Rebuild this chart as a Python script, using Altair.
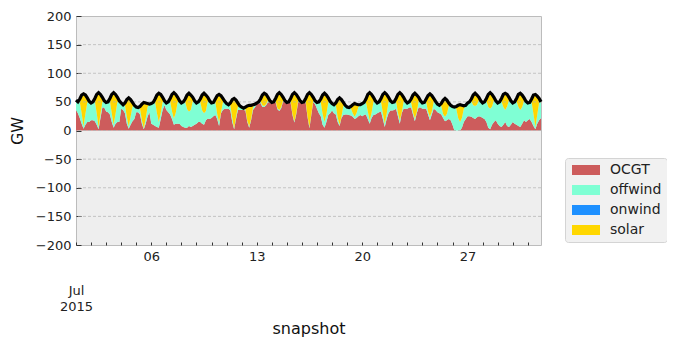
import altair as alt
import pandas as pd

# ---------------- data (GW, 3-hourly snapshots 00,03,...,21h, July 2015) ----------------
CARRIERS = ["OCGT", "offwind", "onwind", "solar"]
COLORS = ["#cd5c5c", "#7fffd4", "#1e90ff", "#ffd700"]

OCGT_DAYS = [
    [36, 30, 22, 12, 3, 10, 15, 15], [18, 18, 16, 10, 2, 22, 40, 40], [33, 32, 28, 15, 5, 12, 15, 15],
    [38, 36, 30, 12, 3, 10, 16, 20], [32, 32, 28, 12, 2, 12, 24, 32], [12, 10, 8, 6, 5, 20, 36, 44],
    [36, 32, 28, 20, 10, 12, 12, 12], [8, 6, 5, 5, 8, 6, 8, 10], [12, 15, 15, 12, 10, 18, 21, 20],
    [22, 25, 27, 20, 8, 30, 36, 38], [38, 38, 35, 15, 2, 20, 36, 36], [36, 36, 35, 15, 5, 18, 36, 40],
    [46, 47, 48, 41, 41, 44, 50, 48], [47, 48, 50, 37, 34, 39, 51, 49], [47, 48, 49, 27, 14, 29, 50, 49],
    [47, 48, 49, 23, 4, 27, 50, 46], [38, 30, 25, 10, 5, 15, 27, 30], [35, 30, 28, 15, 8, 22, 27, 28],
    [28, 27, 26, 24, 20, 22, 25, 27], [25, 27, 28, 20, 12, 22, 27, 28], [30, 32, 33, 20, 6, 20, 30, 35],
    [35, 36, 38, 25, 12, 30, 38, 38], [38, 40, 40, 28, 16, 30, 40, 40], [38, 38, 38, 28, 18, 28, 38, 36],
    [32, 30, 28, 22, 16, 18, 20, 18], [10, 0, 0, 0, 0, 5, 15, 20], [25, 25, 24, 22, 20, 23, 25, 24],
    [22, 20, 15, 5, 2, 10, 15, 18], [12, 8, 6, 10, 15, 8, 6, 10], [15, 12, 10, 8, 6, 12, 18, 15],
    [18, 20, 15, 8, 2, 12, 18, 22],
]
OFFWIND_DAYS = [
    [17, 20, 28, 18, 4, 19, 34, 36], [30, 32, 35, 20, 4, 7, 10, 12], [16, 18, 23, 15, 5, 17, 35, 37],
    [10, 9, 14, 12, 4, 14, 26, 24], [9, 8, 10, 6, 2, 8, 17, 14], [35, 39, 42, 24, 10, 10, 14, 8],
    [12, 18, 23, 13, 11, 19, 38, 40], [40, 44, 45, 32, 25, 30, 43, 42], [36, 35, 35, 23, 20, 16, 30, 32],
    [26, 24, 23, 9, 7, 1, 13, 13], [9, 7, 9, 7, 2, 3, 6, 7], [5, 3, 2, 2, 2, 2, 4, 6],
    [2, 3, 3, 3, 2, 2, 3, 4], [2, 2, 2, 2, 2, 2, 2, 3], [2, 2, 2, 2, 2, 2, 2, 3],
    [2, 2, 2, 2, 2, 2, 2, 6], [11, 20, 25, 19, 10, 13, 22, 21], [12, 15, 16, 8, 2, 2, 16, 16],
    [13, 13, 13, 6, 4, 8, 16, 18], [22, 22, 22, 13, 6, 9, 23, 24], [18, 18, 18, 10, 6, 9, 20, 17],
    [14, 14, 13, 6, 6, 1, 12, 14], [10, 10, 10, 4, 5, 2, 11, 12], [10, 11, 12, 5, 6, 5, 12, 15],
    [14, 14, 15, 7, 8, 11, 23, 26], [32, 41, 38, 22, 15, 17, 23, 24], [23, 25, 27, 22, 23, 22, 28, 28],
    [26, 30, 36, 36, 36, 32, 38, 34], [36, 42, 45, 31, 21, 34, 47, 42], [33, 38, 41, 33, 30, 29, 34, 36],
    [30, 29, 35, 21, 4, 15, 31, 28],
]
SOLAR_DAYS = [
    [0, 0, 5, 32, 57, 33, 8, 0], [0, 0, 5, 33, 60, 34, 8, 0], [0, 0, 5, 33, 56, 34, 8, 0],
    [0, 0, 4, 30, 50, 30, 7, 0], [0, 0, 4, 28, 45, 28, 6, 0], [0, 0, 5, 32, 50, 33, 8, 0],
    [0, 0, 5, 30, 45, 32, 8, 0], [0, 0, 5, 25, 32, 26, 7, 0], [0, 0, 5, 27, 35, 28, 7, 0],
    [0, 0, 5, 32, 48, 30, 7, 0], [0, 0, 4, 32, 52, 30, 6, 0], [0, 0, 4, 26, 37, 24, 5, 0],
    [0, 0, 4, 18, 22, 17, 5, 0], [0, 0, 4, 24, 30, 22, 5, 0], [0, 0, 5, 34, 50, 32, 6, 0],
    [0, 0, 5, 38, 60, 34, 6, 0], [0, 0, 5, 33, 50, 34, 8, 0], [0, 0, 4, 31, 47, 30, 6, 0],
    [0, 0, 3, 15, 23, 16, 4, 0], [0, 0, 5, 30, 48, 32, 8, 0], [0, 0, 5, 33, 54, 34, 8, 0],
    [0, 0, 5, 32, 48, 32, 8, 0], [0, 0, 5, 30, 44, 30, 7, 0], [0, 0, 5, 28, 40, 28, 6, 0],
    [0, 0, 4, 24, 32, 24, 5, 0], [0, 0, 4, 22, 30, 22, 5, 0], [0, 0, 4, 18, 22, 17, 5, 0],
    [0, 0, 5, 22, 28, 21, 5, 0], [0, 0, 5, 22, 29, 21, 5, 0], [0, 0, 5, 22, 29, 21, 5, 0],
    [0, 0, 5, 33, 57, 33, 7, 0],
]
LOAD_DAYS = [
    [53, 50, 55, 62, 64, 62, 57, 51], [48, 50, 56, 63, 66, 63, 58, 52], [49, 50, 56, 63, 66, 63, 58, 52],
    [48, 45, 48, 54, 57, 54, 49, 44], [41, 40, 42, 46, 49, 48, 47, 46], [47, 49, 55, 62, 65, 63, 58, 52],
    [48, 50, 56, 63, 66, 63, 58, 52], [48, 50, 55, 62, 65, 62, 58, 52], [48, 50, 55, 62, 65, 62, 58, 52],
    [48, 49, 55, 61, 63, 61, 56, 51], [47, 45, 48, 54, 56, 53, 48, 43], [41, 39, 41, 43, 44, 44, 45, 46],
    [48, 50, 55, 62, 65, 63, 58, 52], [49, 50, 56, 63, 66, 63, 58, 52], [49, 50, 56, 63, 66, 63, 58, 52],
    [49, 50, 56, 63, 66, 63, 58, 52], [49, 50, 55, 62, 65, 62, 57, 51], [47, 45, 48, 54, 57, 54, 49, 44],
    [41, 40, 42, 45, 47, 46, 45, 45], [47, 49, 55, 63, 66, 63, 58, 52], [48, 50, 56, 63, 66, 63, 58, 52],
    [49, 50, 56, 63, 66, 63, 58, 52], [48, 50, 55, 62, 65, 62, 58, 52], [48, 49, 55, 61, 64, 61, 56, 51],
    [46, 44, 47, 53, 56, 53, 48, 44], [42, 41, 42, 44, 45, 44, 43, 44], [48, 50, 55, 62, 65, 62, 58, 52],
    [48, 50, 56, 63, 66, 63, 58, 52], [48, 50, 56, 63, 65, 63, 58, 52], [48, 50, 56, 63, 65, 62, 57, 51],
    [48, 49, 55, 62, 63, 60, 56, 50],
]

Y_TICKS = [-200, -150, -100, -50, 0, 50, 100, 150, 200]
GRID_LINES = [-150, -100, -50, 0, 50, 100, 150]
LABELLED_DAYS = [6, 13, 20, 27]

# ---------------- tables ----------------
def flat(days):
    return [v for day in days for v in day]

ocgt = flat(OCGT_DAYS)
offwind = flat(OFFWIND_DAYS)
solar = flat(SOLAR_DAYS)
load = flat(LOAD_DAYS)
onwind = [0] * len(load)

times = pd.date_range("2015-07-01 00:00", periods=len(load), freq="3h")
tstr = [t.strftime("%Y-%m-%dT%H:%M:%S") for t in times]

rows = []
for k, (name, series) in enumerate(zip(CARRIERS, [ocgt, offwind, onwind, solar])):
    for t, v in zip(tstr, series):
        rows.append({"snapshot": t, "carrier": name, "GW": v, "stackpos": k})
df_gen = pd.DataFrame(rows)
df_load = pd.DataFrame({"snapshot": tstr, "load": load})
df_grid = pd.DataFrame({"y": GRID_LINES})

x_scale = alt.Scale(
    domain=[alt.DateTime(year=2015, month=7, date=1, hours=0),
            alt.DateTime(year=2015, month=7, date=31, hours=21)],
    nice=False,
)
y_scale = alt.Scale(domain=[-200, 200], nice=False, zero=False)

label_expr = (
    "date(datum.value) == 1 ? ['Jul', '2015'] : "
    "(indexof([" + ",".join(str(d) for d in LABELLED_DAYS) + "], date(datum.value)) >= 0 ? "
    "timeFormat(datum.value, '%d') : '')"
)

x_axis = alt.Axis(
    values=[alt.DateTime(year=2015, month=7, date=d) for d in range(1, 32)],
    labelExpr=label_expr,
    tickSize=3,
    offset=-3,
    domain=False,
    grid=False,
    labelPadding={"condition": {"test": "date(datum.value) == 1", "value": 39}, "value": 5},
    labelFontSize=13,
    labelLineHeight=16,
    labelOverlap=False,
    labelFlush=False,
    labelBound=False,
    labelAngle=0,
    labelBaseline="top",
    title="snapshot",
    titleFontSize=16,
    titleFontWeight="normal",
    titleY=78,
    titleBaseline="top",
    tickColor="#333333",
)
y_axis = alt.Axis(
    values=Y_TICKS,
    tickSize=5,
    offset=-5,
    domain=False,
    grid=False,
    labelPadding=5,
    labelFontSize=13,
    labelOverlap=False,
    labelFlush=False,
    labelBound=False,
    title="GW",
    titleFontSize=16,
    titleFontWeight="normal",
    titlePadding=10,
    tickColor="#333333",
)

legend = alt.Legend(
    title=None,
    orient="none",
    legendX=489,
    legendY=142,
    symbolType="M-1,-1L4.6,-1L4.6,1L-1,1Z",
    symbolSize=100,
    symbolStrokeWidth=0,
    labelFontSize=14,
    labelOffset=26,
    rowPadding=6,
    padding=5,
    fillColor="#f1f1f1",
    strokeColor="#d4d4d4",
    cornerRadius=3,
)

areas = alt.Chart(df_gen).mark_area(interpolate="linear", opacity=1).encode(
    x=alt.X("snapshot:T", scale=x_scale, axis=x_axis),
    y=alt.Y("GW:Q", stack="zero", scale=y_scale, axis=y_axis),
    color=alt.Color("carrier:N", scale=alt.Scale(domain=CARRIERS, range=COLORS), legend=legend),
    order=alt.Order("stackpos:Q", sort="ascending"),
)

grid = alt.Chart(df_grid).mark_rule(color="#b2b2b2", strokeWidth=0.7, strokeDash=[3, 2]).encode(
    y=alt.Y("y:Q", scale=y_scale, axis=y_axis)
)

line = alt.Chart(df_load).mark_line(color="black", strokeWidth=3.2, interpolate="linear").encode(
    x=alt.X("snapshot:T", scale=x_scale, axis=x_axis),
    y=alt.Y("load:Q", scale=y_scale, axis=y_axis),
)

chart = (
    alt.layer(areas, grid, line)
    .properties(
        width=465,
        height=229,
        autosize=alt.AutoSizeParams(type="none"),
        padding={"left": 68, "top": 8, "right": 126, "bottom": 100},
    )
    .configure(font="DejaVu Sans")
    .configure_view(fill="#eeeeee", stroke="#bcbcbc", strokeWidth=1)
    .configure_axis(labelColor="#222222", titleColor="#111111", labelFont="DejaVu Sans", titleFont="DejaVu Sans")
    .configure_legend(labelColor="#222222", labelFont="DejaVu Sans")
)

chart.save("out.html", embed_options={"renderer": "svg", "actions": False})
